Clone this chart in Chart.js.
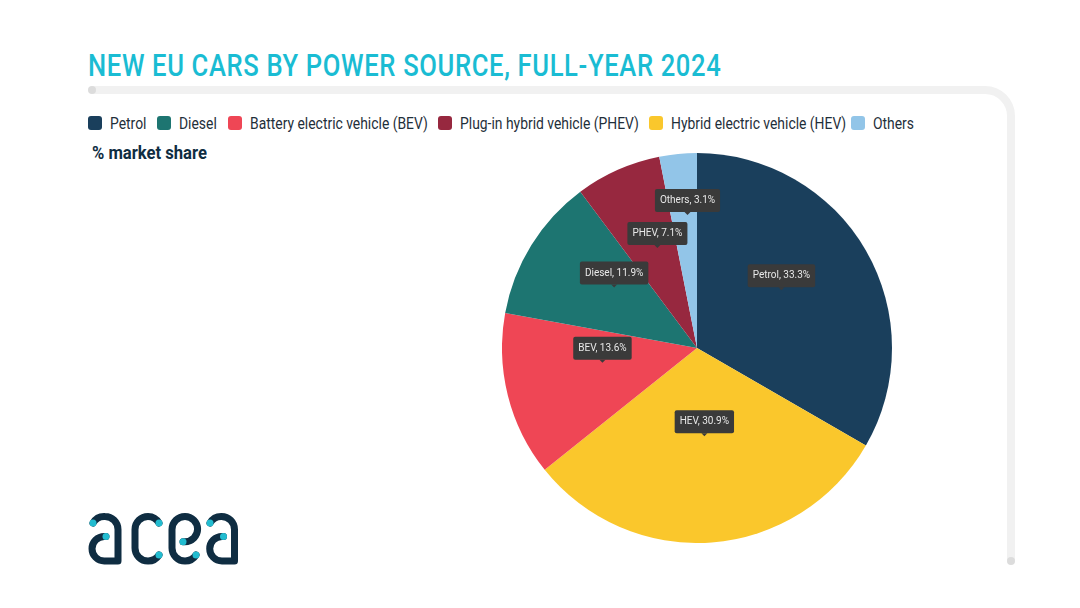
<!DOCTYPE html>
<html lang="en">

<head>
    <meta charset="UTF-8">
    <title>New EU cars by power source, full-year 2024</title>
    <script src="https://cdn.jsdelivr.net/npm/chart.js"></script>
    <style>
        html, body { margin: 0; background: #fff; }
        #page { position: relative; width: 1080px; height: 608px; overflow: hidden; font-family: Roboto, sans-serif; }
        #frame, #logo { position: absolute; left: 0; top: 0; }
        #title {
            position: absolute; left: 88px; top: 45px; margin: 0; white-space: nowrap;
            font: 500 32px/40px Roboto, sans-serif; letter-spacing: 0.8px; color: #1abcd3;
            transform-origin: left top; transform: scaleX(0.8);
        }
        #unit {
            position: absolute; left: 92px; top: 143px; white-space: nowrap;
            font: 700 17.5px/20px Roboto, sans-serif; color: #0f2d42;
            transform-origin: left top; transform: scaleX(0.95);
        }
        .swatch { position: absolute; top: 116px; width: 14px; height: 14px; border-radius: 3px; }
        .entry {
            position: absolute; top: 114px; white-space: nowrap;
            font: 400 16px/20px Roboto, sans-serif; color: #1f2f3a;
            transform-origin: left top; transform: scaleX(0.868);
        }
        #chartBox { position: absolute; left: 502px; top: 153px; width: 390px; height: 390px; }
    </style>
</head>

<body>
    <div id="page">
        <svg id="frame" width="1080" height="608">
            <path d="M92 90 H985 A26 26 0 0 1 1011 116 V561" fill="none" stroke="#f1f1f1" stroke-width="8" />
            <circle cx="92" cy="90" r="4" fill="#dcdcdc" />
            <circle cx="1011" cy="561" r="4" fill="#dcdcdc" />
        </svg>
        <h1 id="title">NEW EU CARS BY POWER SOURCE, FULL-YEAR 2024</h1>
        <div id="legend"></div>
        <div id="unit">% market share</div>
        <div id="chartBox"><canvas id="shareChart" width="390" height="390"></canvas></div>
        <svg id="logo" width="1080" height="608" role="img" aria-label="acea">
            <g fill="none" stroke="#0f2d42" stroke-width="7" stroke-linecap="round" stroke-linejoin="round">
                <path d="M93 523 A13 13 0 0 1 105 516.5 A13 13 0 0 1 118 529.5 V561 H104.3 A12.3 12.3 0 0 1 104.3 536.4 H106" />
                <path d="M159 523 A13 13 0 0 0 148 516.5 A13 13 0 0 0 135 529.5 V548 A13 13 0 0 0 148 561 A13 13 0 0 0 159 555" />
                <path d="M196 555 A13 13 0 0 1 185 561 A13 13 0 0 1 172 548 V529.5 A13 13 0 0 1 185 516.5 A12.6 12.6 0 0 1 185 541.7 H183" />
                <path d="M210 523 A13 13 0 0 1 221.5 516.5 A13 13 0 0 1 234.5 529.5 V561 H222 A12.3 12.3 0 0 1 222 536.4 H223.5" />
            </g>
            <g fill="#22bcd0">
                <circle cx="93" cy="523" r="3.5" />
                <circle cx="106" cy="536.4" r="3.5" />
                <circle cx="159" cy="523" r="3.5" />
                <circle cx="159" cy="555" r="3.5" />
                <circle cx="183" cy="541.7" r="3.5" />
                <circle cx="196" cy="555" r="3.5" />
                <circle cx="210" cy="523" r="3.5" />
                <circle cx="223.5" cy="536.4" r="3.5" />
            </g>
        </svg>
    </div>
    <script>
        // slices, clockwise from the top
        const sliceNames = ['Petrol', 'HEV', 'BEV', 'Diesel', 'PHEV', 'Others'];
        const sliceValues = [33.3, 30.9, 13.6, 11.9, 7.1, 3.1];
        const sliceColors = ['#1a3f5c', '#fac72c', '#ef4655', '#1d7571', '#97283f', '#92c5e8'];

        // legend has its own order
        const legendNames = ['Petrol', 'Diesel', 'Battery electric vehicle (BEV)', 'Plug-in hybrid vehicle (PHEV)', 'Hybrid electric vehicle (HEV)', 'Others'];
        const legendColors = ['#1a3f5c', '#1d7571', '#ef4655', '#97283f', '#fac72c', '#92c5e8'];
        const legendLeft = [88, 157, 228, 438, 649, 851];

        const legend = document.getElementById('legend');
        legendNames.forEach((name, i) => {
            const swatch = document.createElement('div');
            swatch.className = 'swatch';
            swatch.style.left = legendLeft[i] + 'px';
            swatch.style.background = legendColors[i];
            legend.appendChild(swatch);
            const entry = document.createElement('div');
            entry.className = 'entry';
            entry.style.left = (legendLeft[i] + 22) + 'px';
            entry.textContent = name;
            legend.appendChild(entry);
        });

        // extra lift so the small-slice callouts clear each other
        const calloutLift = [0, 0, 0, 0, 2, 27];

        // dark callouts sitting just above each slice's mid point
        const calloutPlugin = {
            id: 'callouts',
            afterDatasetsDraw(chart) {
                const ctx = chart.ctx;
                ctx.save();
                ctx.font = '400 10px Roboto, sans-serif';
                ctx.textAlign = 'center';
                ctx.textBaseline = 'middle';
                chart.getDatasetMeta(0).data.forEach((arc, i) => {
                    const pos = arc.tooltipPosition();
                    const text = sliceNames[i] + ', ' + sliceValues[i] + '%';
                    const w = ctx.measureText(text).width + 10;
                    const h = 23;
                    const tipY = pos.y - 9 - calloutLift[i];
                    ctx.fillStyle = '#3a3a3a';
                    ctx.beginPath();
                    ctx.roundRect(pos.x - w / 2, tipY - 3 - h, w, h, 2);
                    ctx.fill();
                    ctx.beginPath();
                    ctx.moveTo(pos.x - 3, tipY - 3);
                    ctx.lineTo(pos.x + 3, tipY - 3);
                    ctx.lineTo(pos.x, tipY);
                    ctx.closePath();
                    ctx.fill();
                    ctx.fillStyle = '#e8e8e8';
                    ctx.fillText(text, pos.x, tipY - 3 - h / 2);
                });
                ctx.restore();
            }
        };

        new Chart(document.getElementById('shareChart'), {
            type: 'pie',
            data: {
                labels: sliceNames,
                datasets: [{
                    data: sliceValues,
                    backgroundColor: sliceColors,
                    borderWidth: 0,
                    hoverOffset: 0
                }]
            },
            options: {
                responsive: false,
                animation: false,
                layout: { padding: 0 },
                plugins: {
                    legend: { display: false },
                    tooltip: { enabled: false }
                }
            },
            plugins: [calloutPlugin]
        });
    </script>
</body>

</html>
